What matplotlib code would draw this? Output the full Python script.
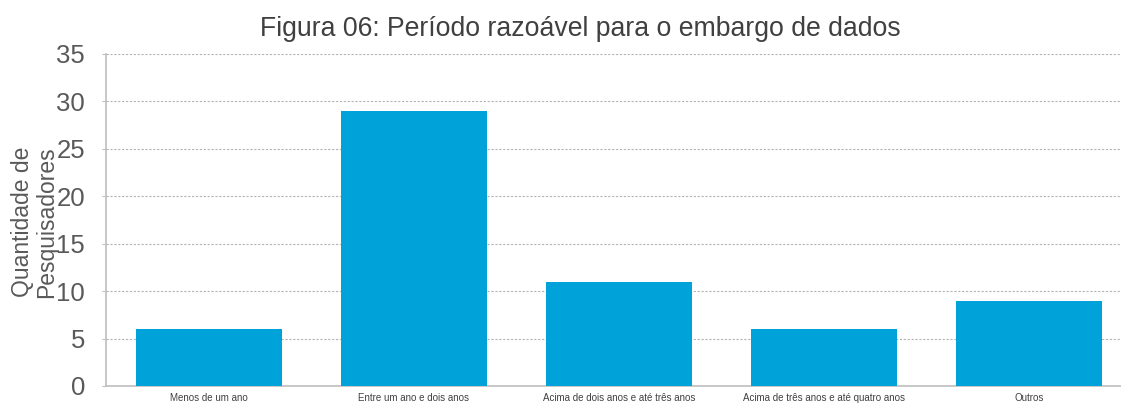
import matplotlib.pyplot as plt

categorias = [
    "Menos de um ano",
    "Entre um ano e dois anos",
    "Acima de dois anos e até três anos",
    "Acima de três anos e até quatro anos",
    "Outros",
]
quantidades = [6, 29, 11, 6, 9]
yticks = [0, 5, 10, 15, 20, 25, 30, 35]

plt.rcParams["font.family"] = ["Liberation Sans", "DejaVu Sans"]

fig = plt.figure(figsize=(11.21, 4.05), dpi=100)
ax = fig.add_axes([0.0946, 0.047, 0.9054, 0.8197])

x = range(len(categorias))
ax.bar(x, quantidades, width=0.71, color="#00A3D9", zorder=3)

ax.set_xlim(-0.502, 4.449)
ax.set_ylim(0, 35)
ax.set_yticks(yticks)
ax.set_xticks(list(x))
ax.set_xticklabels(categorias, fontsize=7, color="#404040")
ax.tick_params(axis="y", labelsize=18.5, labelcolor="#595959", length=3,
               width=0.8, color="#bfbfbf", pad=12)
ax.tick_params(axis="x", length=0, pad=5)

ax.yaxis.grid(True, linestyle=(0, (2, 1.5)), color="#b3b3b3", linewidth=0.8, zorder=0)
for s in ["top", "right"]:
    ax.spines[s].set_visible(False)
ax.spines["left"].set_color("#bfbfbf")
ax.spines["bottom"].set_color("#bfbfbf")
ax.spines["left"].set_linewidth(1.2)
ax.spines["bottom"].set_linewidth(1.2)

fig.text(0.031, 0.452, "Quantidade de\nPesquisadores", rotation=90,
         ha="center", va="center", fontsize=16.5, color="#595959", linespacing=1.05)
fig.text(0.518, 0.928, "Figura 06: Período razoável para o embargo de dados",
         ha="center", va="center", fontsize=19.2, color="#404040")

fig.savefig("out.png", dpi=100)
